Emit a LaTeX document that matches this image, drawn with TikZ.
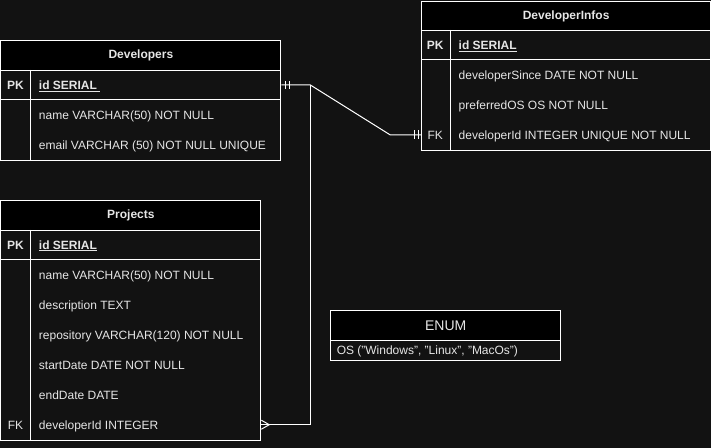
\documentclass[tikz,border=0pt]{standalone}
\usepackage{fontspec}
\setmainfont{Liberation Sans}
\usetikzlibrary{positioning}
\definecolor{canvas}{HTML}{121212}
\definecolor{ink}{HTML}{E6E6E6}

\begin{document}
\begin{tikzpicture}[x=1pt, y=-1pt, line width=1pt,
    every node/.style={text=ink, inner sep=0pt},
    header/.style={draw=white, fill=black, anchor=north west, minimum height=30pt,
      font=\fontsize{12}{14}\selectfont\bfseries},
    body/.style={draw=white, fill=canvas, anchor=north west},
    field/.style={anchor=west, text height=8.6pt, text depth=0pt,
      font=\fontsize{12}{14}\selectfont},
    key/.style={text height=8.6pt, text depth=0pt,
      font=\fontsize{12}{14}\selectfont\bfseries},
    pkfield/.style={field, font=\fontsize{12}{14}\selectfont\bfseries},
    link/.style={draw=white, line width=1pt}
  ]
  % canvas
  \fill[canvas] (0,0) rectangle (711,448);

  % Developers
  \node[header, minimum width=280pt] (devhead) at (0,40) {Developers};
  \node[body, minimum width=280pt, minimum height=90pt] (devbody) at (0,70) {};
  \draw[white] (0,100) -- (280,100);
  \draw[white] (30,70) -- (30,160);
  \node[key] (devpk) at (15,85) {PK};
  \node[pkfield] (devid) at (38,85) {\underline{id SERIAL\ }};
  \node[field] (devname) at (38,115) {name VARCHAR(50) NOT NULL};
  \node[field] (devmail) at (38,145) {email VARCHAR (50) NOT NULL UNIQUE};

  % DeveloperInfos
  \node[header, minimum width=289pt] (infohead) at (421,1) {DeveloperInfos};
  \node[body, minimum width=289pt, minimum height=120pt] (infobody) at (421,30) {};
  \draw[white] (421,60) -- (710,60);
  \draw[white] (450,30) -- (450,150);
  \node[key] (infopk) at (435,45) {PK};
  \node[pkfield] (infoid) at (458,45) {\underline{id SERIAL}};
  \node[field] (infosince) at (458,75) {developerSince DATE NOT NULL};
  \node[field] (infoos) at (458,105) {preferredOS OS NOT NULL};
  \node[key, font=\fontsize{12}{14}\selectfont] (infofk) at (435,135) {FK};
  \node[field] (infodev) at (458,135) {developerId INTEGER UNIQUE NOT NULL};

  % Projects
  \node[header, minimum width=260pt] (projhead) at (0,200) {Projects};
  \node[body, minimum width=260pt, minimum height=210pt] (projbody) at (0,230) {};
  \draw[white] (0,260) -- (260,260);
  \draw[white] (30,230) -- (30,440);
  \node[key] (projpk) at (15,245) {PK};
  \node[pkfield] (projid) at (38,245) {\underline{id SERIAL}};
  \node[field] (projname) at (38,275) {name VARCHAR(50) NOT NULL};
  \node[field] (projdesc) at (38,305) {description TEXT};
  \node[field] (projrepo) at (38,335) {repository VARCHAR(120) NOT NULL};
  \node[field] (projstart) at (38,365) {startDate DATE NOT NULL};
  \node[field] (projend) at (38,395) {endDate DATE};
  \node[key, font=\fontsize{12}{14}\selectfont] (projfk) at (15,425) {FK};
  \node[field] (projdev) at (38,425) {developerId INTEGER};

  % ENUM
  \node[header, minimum width=230pt, font=\fontsize{14}{16}\selectfont] (enumhead) at (330,310) {ENUM};
  \node[body, minimum width=230pt, minimum height=20pt] (enumbody) at (330,340) {};
  \node[field] (enumos) at (336,350) {OS ("Windows", "Linux", "MacOs")};

  % relations
  \coordinate (devport) at (devbody.east |- devpk);
  \coordinate (infoport) at (infobody.west |- infofk);
  \coordinate (projport) at (projbody.east |- projfk);
  \coordinate (fork) at (310,85);
  \draw[link] (devport) -- (fork) -- (390,135) -- (infoport);
  \draw[link] (fork) -- (fork |- projport) -- (projport);
  % one and only one
  \draw[link] (devport) ++(4.5,-4) -- ++(0,8);
  \draw[link] (devport) ++(8.5,-4) -- ++(0,8);
  \draw[link] (infoport) ++(-6.5,-4.5) -- ++(0,9);
  \draw[link] (infoport) ++(-3,-4.5) -- ++(0,9);
  % many
  \draw[link] (projport) ++(0,-4.5) -- ++(8,4.5) -- ++(-8,4.5);
\end{tikzpicture}
\end{document}
